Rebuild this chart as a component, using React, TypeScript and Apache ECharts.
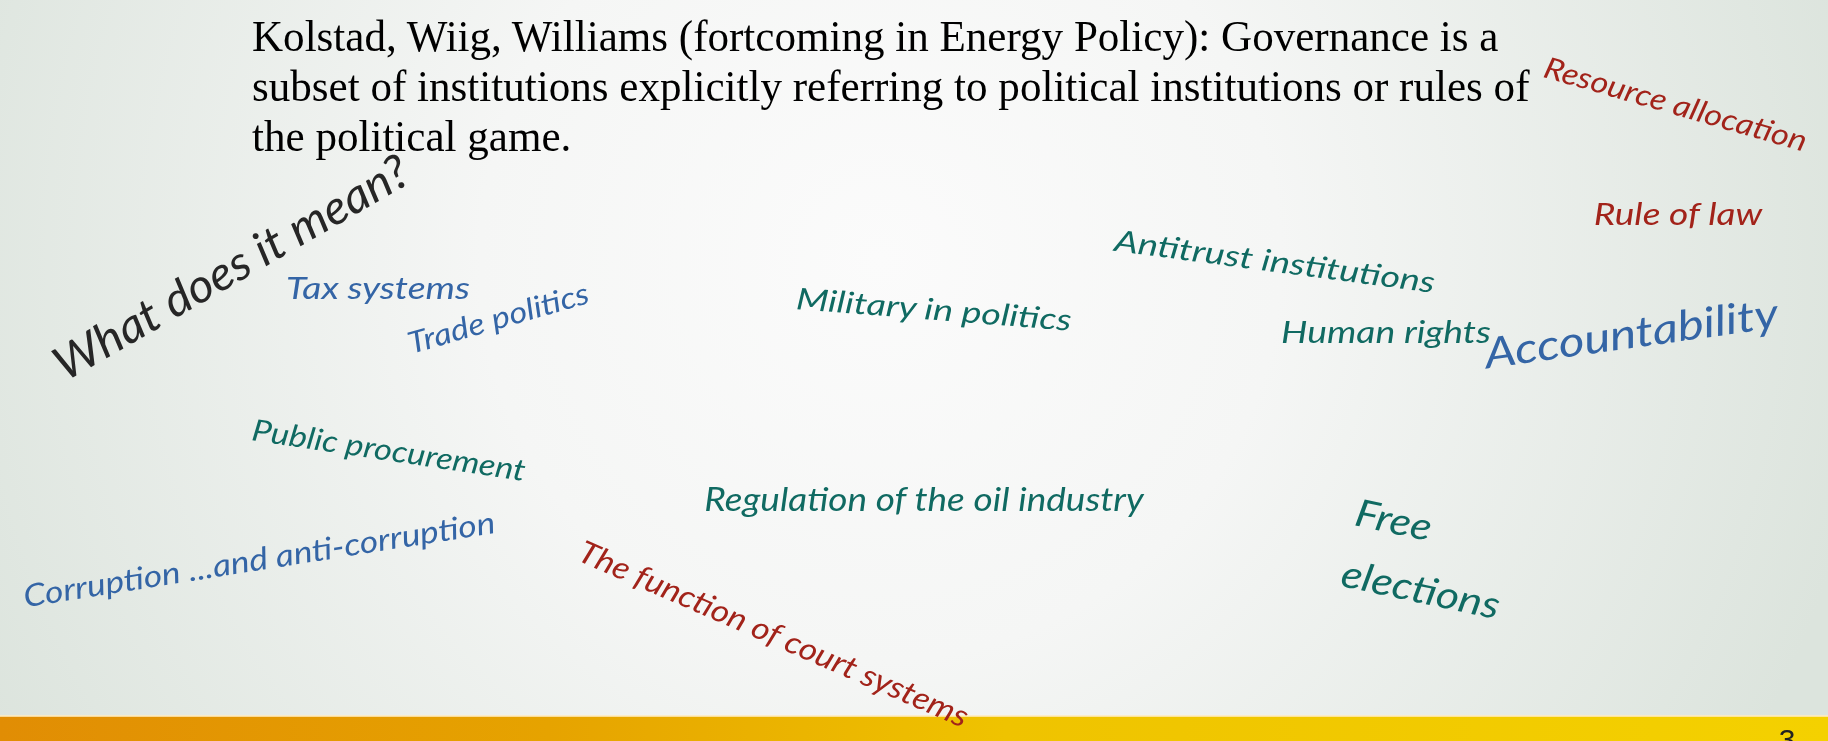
import React, { useEffect, useRef } from "react";
import * as echarts from "echarts";

const titleLines = [
  "Kolstad, Wiig, Williams (fortcoming in Energy Policy): Governance is a",
  "subset of institutions explicitly referring to political institutions or rules of",
  "the political game.",
];
const questionText = "What does it mean?";
const redTerms = ["Resource allocation", "Rule of law", "The function of court systems"];
const tealTerms = [
  "Antitrust institutions",
  "Human rights",
  "Military in politics",
  "Public procurement",
  "Regulation of the oil industry",
  "Free",
  "elections",
];
const blueTerms = ["Accountability", "Tax systems", "Trade politics", "Corruption ...and anti-corruption"];
const pageNumber = "3";

// layout per term: centre x, centre y, angle (deg, counter-clockwise), run length, font size
const layout: Record<string, [number, number, number, number, number]> = {
  "What does it mean?": [230, 266, 30, 402, 47],
  "Resource allocation": [1676, 103, -16, 272, 30],
  "Rule of law": [1678, 213, 0, 169, 30],
  "The function of court systems": [774, 633, -23.5, 422, 31],
  "Antitrust institutions": [1275, 260, -7.5, 323, 30],
  "Human rights": [1386, 331, 0, 210, 31],
  "Military in politics": [934, 308, -4.5, 277, 30],
  "Public procurement": [389, 449, -8.5, 276, 30],
  "Regulation of the oil industry": [924, 499, 0, 440, 32],
  Free: [1394, 519, -12, 77, 38],
  elections: [1421, 588, -12, 161, 38],
  Accountability: [1631, 332, 8, 296, 42],
  "Tax systems": [378, 287, 0, 184, 30],
  "Trade politics": [498, 317, 16, 187, 30],
  "Corruption ...and anti-corruption": [259, 558, 9, 477, 31],
};

const HAND_FONT = "Lato";
const COLORS = { red: "#A2231A", teal: "#106A62", blue: "#3465A6", ink: "#262626" };

let measureCtx: CanvasRenderingContext2D | null = null;
function measure(text: string, font: string): number {
  if (!measureCtx) measureCtx = document.createElement("canvas").getContext("2d");
  measureCtx!.font = font;
  return measureCtx!.measureText(text).width;
}

function handText(text: string, color: string) {
  const [cx, cy, deg, len, size] = layout[text];
  const font = `italic 400 ${size}px ${HAND_FONT}`;
  const w = measure(text, font) || 1;
  return {
    type: "text",
    x: cx,
    y: cy,
    rotation: (deg * Math.PI) / 180,
    scaleX: len / w,
    z: 10,
    style: {
      text,
      fill: color,
      font,
      align: "center",
      verticalAlign: "middle",
      textAlign: "center",
      textVerticalAlign: "middle",
    },
  };
}

export default function App() {
  const ref = useRef<HTMLDivElement>(null);
  useEffect(() => {
    if (!ref.current) return;
    const chart = echarts.init(ref.current, undefined, { renderer: "svg" });
    const W = 1828;
    const H = 741;
    const titleFont = `400 44px "Liberation Serif", "Times New Roman", serif`;
    const titleScale = 1248 / (measure(titleLines[0], titleFont) || 1248);
    const elements: any[] = [
      {
        type: "rect",
        shape: { x: 0, y: 0, width: W, height: H },
        z: 0,
        style: {
          fill: {
            type: "radial",
            x: 880,
            y: 260,
            r: 1000,
            global: true,
            colorStops: [
              { offset: 0, color: "#FBFBFB" },
              { offset: 0.4, color: "#F5F6F5" },
              { offset: 1, color: "#DCE4DD" },
            ],
          },
        },
      },
      {
        type: "rect",
        shape: { x: 0, y: 716, width: W, height: H - 716 },
        z: 1,
        style: {
          fill: {
            type: "linear",
            x: 0,
            y: 0,
            x2: 1,
            y2: 0,
            colorStops: [
              { offset: 0, color: "#E18D04" },
              { offset: 0.3, color: "#E6A300" },
              { offset: 0.55, color: "#EFC300" },
              { offset: 1, color: "#F4D100" },
            ],
          },
        },
      },
      {
        type: "rect",
        shape: { x: 0, y: 715, width: W, height: 2 },
        z: 2,
        style: { fill: "rgba(255,235,190,0.8)" },
      },
      {
        type: "text",
        x: 1787,
        y: 724,
        z: 5,
        style: {
          text: pageNumber,
          fill: "#222222",
          font: `400 30px "Liberation Sans", Arial, sans-serif`,
          align: "center",
          verticalAlign: "top",
          textAlign: "center",
          textVerticalAlign: "top",
        },
      },
    ];
    titleLines.forEach((line, i) => {
      elements.push({
        type: "text",
        x: 252,
        y: 36 + i * 50,
        scaleX: titleScale,
        z: 5,
        style: {
          text: line,
          fill: "#000000",
          font: titleFont,
          align: "left",
          verticalAlign: "middle",
          textAlign: "left",
          textVerticalAlign: "middle",
        },
      });
    });
    elements.push(handText(questionText, COLORS.ink));
    redTerms.forEach((t) => elements.push(handText(t, COLORS.red)));
    tealTerms.forEach((t) => elements.push(handText(t, COLORS.teal)));
    blueTerms.forEach((t) => elements.push(handText(t, COLORS.blue)));

    chart.setOption({ animation: false, graphic: { elements } });
    return () => chart.dispose();
  }, []);
  return (
    <div
      ref={ref}
      style={{ position: "fixed", left: 0, top: 0, width: 1828, height: 741 }}
    />
  );
}
